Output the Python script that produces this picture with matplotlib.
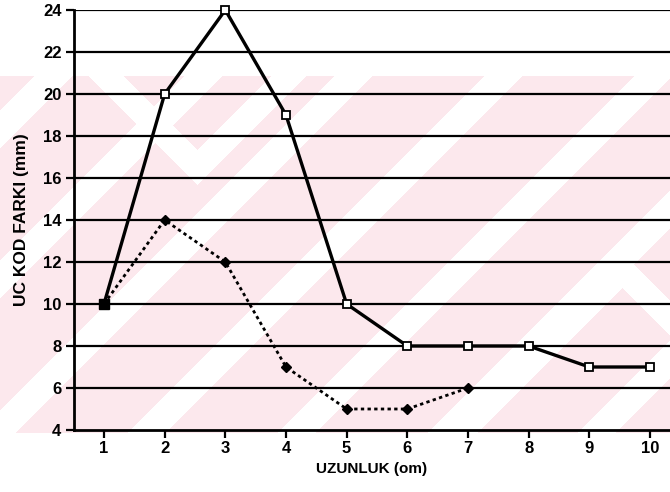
import numpy as np
import matplotlib
matplotlib.use("Agg")
import matplotlib.pyplot as plt

plt.rcParams['font.family'] = ['Liberation Sans', 'DejaVu Sans']

# Measurements
uzunluk = [1, 2, 3, 4, 5, 6, 7, 8, 9, 10]
fark_a = [10, 20, 24, 19, 10, 8, 8, 8, 7, 7]
uzunluk_b = [1, 2, 3, 4, 5, 6, 7]
fark_b = [10, 14, 12, 7, 5, 5, 6]
y_ticks = [4, 6, 8, 10, 12, 14, 16, 18, 20, 22, 24]

W, H = 670, 492
fig = plt.figure(figsize=(W / 100, H / 100), dpi=100)

# light pink diagonal background pattern on its own full-figure axes
yy, xx = np.mgrid[0:H, 0:W]
pink = np.array([252, 232, 237]) / 255.0
img = np.ones((H, W, 3))
band = (yy >= 76) & (yy <= 432)
stripe = ((xx + yy + 40) % 150) < 38
v_white = (np.abs(np.abs(xx - 197) - (167 - yy)) < 18) & (yy < 185)
v2_white = (np.abs(np.abs(xx - 622) - (yy - 270)) < 18) & (yy > 255)
mask = band & ~stripe & ~v_white & ~v2_white
img[mask] = pink
bg = fig.add_axes([0, 0, 1, 1], zorder=0)
bg.imshow(img, aspect='auto', interpolation='nearest')
bg.axis('off')

ax = fig.add_axes([74 / W, (H - 430) / H, (W - 74) / W, 420 / H], zorder=1)
ax.set_facecolor('none')
ax.set_xlim(0.506, 10.33)
ax.set_ylim(4, 24)

ax.set_yticks(y_ticks)
ax.set_xticks(uzunluk)
for y in y_ticks[1:]:
    ax.axhline(y, color='black', lw=1.6, zorder=1)

ax.plot(uzunluk, fark_a, color='black', lw=2.4, marker='s', markersize=6,
        markerfacecolor='white', markeredgecolor='black', markeredgewidth=1.3,
        clip_on=False, zorder=4)
ax.plot(uzunluk_b, fark_b, color='black', lw=2.0, ls=(0, (1.2, 1.2)), marker='D',
        markersize=5, markerfacecolor='black', markeredgecolor='black',
        clip_on=False, zorder=3)
ax.plot([1], [10], marker='s', markersize=7, color='black', zorder=5)

for s in ['top', 'right']:
    ax.spines[s].set_visible(False)
for s in ['left', 'bottom']:
    ax.spines[s].set_linewidth(2.0)
    ax.spines[s].set_color('black')

ax.tick_params(axis='both', direction='out', length=6, width=1.6, colors='black',
               labelsize=12)
ax.tick_params(axis='y', pad=3)
ax.tick_params(axis='x', pad=2)
for lab in ax.get_xticklabels() + ax.get_yticklabels():
    lab.set_fontweight('bold')

ax.set_xlabel('UZUNLUK (om)', fontsize=11, fontweight='bold', labelpad=4)
ax.set_ylabel('UC KOD FARKI (mm)', fontsize=12.5, fontweight='bold', labelpad=10)

fig.savefig('out.png', dpi=100)
